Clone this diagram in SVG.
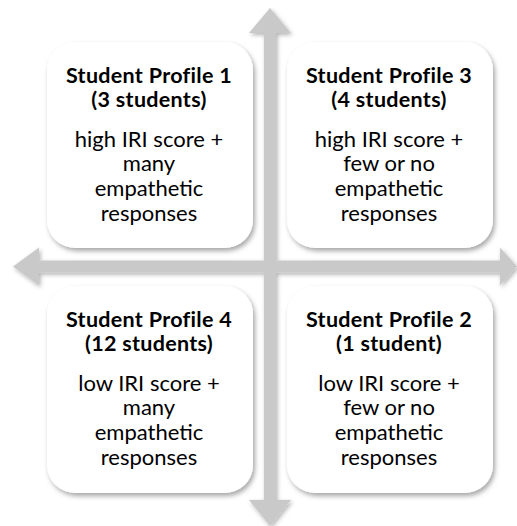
<svg xmlns="http://www.w3.org/2000/svg" width="517" height="526" viewBox="0 0 517 526">
  <defs>
    <filter id="shadow" x="-10%" y="-10%" width="130%" height="130%">
      <feDropShadow dx="2" dy="3" stdDeviation="2.5" flood-color="#000" flood-opacity="0.35"/>
    </filter>
    <filter id="arrowShadow" x="-10%" y="-10%" width="130%" height="130%">
      <feDropShadow dx="1.5" dy="2" stdDeviation="2" flood-color="#000" flood-opacity="0.3"/>
    </filter>
  </defs>
  <style>
    .box { fill: #ffffff; filter: url(#shadow); }
    .axis { fill: #c9c9c9; }
    text { font-family: "Lato", "Open Sans", "Liberation Sans", sans-serif; fill: #000; text-anchor: middle; }
    .title { font-size: 21.5px; font-weight: bold; letter-spacing: 0.3px; }
    .body { font-size: 22px; }
  </style>
  <rect width="517" height="526" fill="#ffffff"/>

  <!-- axes: two double-headed block arrows -->
  <g id="connectors" filter="url(#arrowShadow)">
    <path class="axis" d="M13,266.5 L39,247.5 L39,260.5 L500,260.5 L500,247.5 L517,266.5 L500,285.5 L500,272.5 L39,272.5 L39,285.5 Z"/>
    <path class="axis" d="M270,8 L291,33 L276,33 L276,500 L291,500 L270,526 L249,500 L264,500 L264,33 L249,33 Z"/>
  </g>

  <g id="profile1">
    <rect class="box" x="47" y="42" width="206" height="206" rx="28"/>
    <text class="title" x="149" y="82.8">Student Profile 1<tspan x="149" dy="24.4">(3 students)</tspan></text>
    <text class="body" x="149" y="146.5">high IRI score +<tspan x="149" dy="24.8">many</tspan><tspan x="149" dy="24.8">empathetic</tspan><tspan x="149" dy="24.8">responses</tspan></text>
  </g>

  <g id="profile3">
    <rect class="box" x="287" y="42" width="206" height="206" rx="28"/>
    <text class="title" x="389" y="82.8">Student Profile 3<tspan x="389" dy="24.4">(4 students)</tspan></text>
    <text class="body" x="389" y="146.5">high IRI score +<tspan x="389" dy="24.8">few or no</tspan><tspan x="389" dy="24.8">empathetic</tspan><tspan x="389" dy="24.8">responses</tspan></text>
  </g>

  <g id="profile4">
    <rect class="box" x="47" y="286" width="206" height="207" rx="28"/>
    <text class="title" x="149" y="326.8">Student Profile 4<tspan x="149" dy="24.4">(12 students)</tspan></text>
    <text class="body" x="149" y="390.5">low IRI score +<tspan x="149" dy="24.8">many</tspan><tspan x="149" dy="24.8">empathetic</tspan><tspan x="149" dy="24.8">responses</tspan></text>
  </g>

  <g id="profile2">
    <rect class="box" x="287" y="286" width="206" height="207" rx="28"/>
    <text class="title" x="389" y="326.8">Student Profile 2<tspan x="389" dy="24.4">(1 student)</tspan></text>
    <text class="body" x="389" y="390.5">low IRI score +<tspan x="389" dy="24.8">few or no</tspan><tspan x="389" dy="24.8">empathetic</tspan><tspan x="389" dy="24.8">responses</tspan></text>
  </g>
</svg>
